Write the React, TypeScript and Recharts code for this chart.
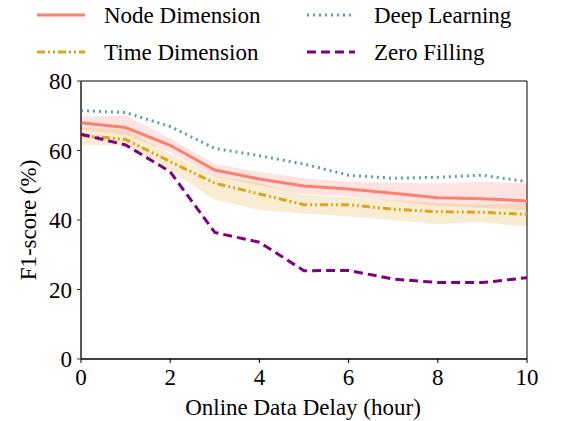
import { ComposedChart, Line, Area, XAxis, YAxis, ReferenceArea } from "recharts"

const delays = [0, 1, 2, 3, 4, 5, 6, 7, 8, 9, 10]
const nodeDim = [68.0, 66.6, 61.5, 54.4, 51.8, 49.8, 48.9, 47.7, 46.4, 46.1, 45.5]
const nodeLow = [66.0, 64.5, 59.5, 52.5, 50.0, 47.4, 46.8, 45.5, 44.0, 43.5, 42.9]
const nodeHigh = [69.7, 70.0, 63.5, 56.1, 53.8, 52.0, 51.0, 50.7, 50.5, 51.0, 50.5]
const timeDim = [64.3, 63.2, 56.8, 50.6, 47.5, 44.4, 44.4, 43.1, 42.4, 42.2, 41.6]
const timeLow = [61.6, 61.5, 54.4, 45.8, 42.9, 41.9, 41.0, 40.0, 38.8, 39.4, 38.1]
const timeHigh = [66.7, 65.9, 59.0, 52.7, 50.6, 47.2, 46.6, 45.6, 45.0, 44.3, 44.8]
const deepLearning = [71.5, 70.9, 66.9, 60.6, 58.5, 56.1, 52.9, 52.0, 52.3, 52.9, 51.0]
const zeroFilling = [64.7, 61.6, 53.9, 36.4, 33.6, 25.4, 25.5, 23.0, 22.0, 22.0, 23.4]
const xTicks = [0, 2, 4, 6, 8, 10]
const yTicks = [0, 20, 40, 60, 80]

const data = delays.map((d, i) => ({
  delay: d,
  node: nodeDim[i],
  nodeBand: [nodeLow[i], nodeHigh[i]],
  time: timeDim[i],
  timeBand: [timeLow[i], timeHigh[i]],
  deep: deepLearning[i],
  zero: zeroFilling[i],
}))

const font = "Liberation Serif, Times New Roman, serif"
const tick = { fill: "#000", fontSize: 23, fontFamily: font }

const legendItems = [
  { label: "Node Dimension", color: "#FA8072", dash: "", x: 37, y: 15 },
  { label: "Deep Learning", color: "#5F9EA0", dash: "2 4", x: 307, y: 15 },
  { label: "Time Dimension", color: "#DAA520", dash: "8 3 2 3 2 3", x: 37, y: 52 },
  { label: "Zero Filling", color: "#800080", dash: "9 5", x: 307, y: 52 },
]

export default function App() {
  return (
    <div style={{ position: "relative", width: 575, height: 421, fontFamily: font }}>
      <style>{"body{margin:0}"}</style>
      <ComposedChart width={575} height={421} data={data} margin={{ top: 81, right: 48, bottom: 0, left: 0 }}>
        <XAxis
          dataKey="delay"
          type="number"
          domain={[0, 10]}
          ticks={xTicks}
          tick={tick}
          tickSize={4}
          tickMargin={6}
          height={62}
          stroke="#000"
        />
        <YAxis
          type="number"
          domain={[0, 80]}
          ticks={yTicks}
          tick={tick}
          tickSize={4}
          tickMargin={5}
          width={81}
          stroke="#333"
        />
        <Area dataKey="nodeBand" stroke="none" fill="#FA8072" fillOpacity={0.22} isAnimationActive={false} />
        <Area dataKey="timeBand" stroke="none" fill="#DAA520" fillOpacity={0.2} isAnimationActive={false} />
        <Line dataKey="deep" stroke="#5F9EA0" strokeWidth={3} strokeDasharray="2 4" dot={false} isAnimationActive={false} />
        <Line dataKey="node" stroke="#FA8072" strokeWidth={3} dot={false} isAnimationActive={false} />
        <Line dataKey="time" stroke="#DAA520" strokeWidth={3} strokeDasharray="8 3 2 3 2 3" dot={false} isAnimationActive={false} />
        <Line dataKey="zero" stroke="#800080" strokeWidth={3} strokeDasharray="9 5" dot={false} isAnimationActive={false} />
        <ReferenceArea x1={0} x2={10} y1={0} y2={80} fill="none" stroke="#000" strokeWidth={1} />
      </ComposedChart>
      <svg width={575} height={421} style={{ position: "absolute", left: 0, top: 0, pointerEvents: "none" }}>
        {legendItems.map((it) => (
          <g key={it.label}>
            <line x1={it.x} x2={it.x + 48} y1={it.y} y2={it.y} stroke={it.color} strokeWidth={3} strokeDasharray={it.dash} />
            <text x={it.x + 67} y={it.y} dominantBaseline="central" fontSize={23} fontFamily={font} fill="#000">
              {it.label}
            </text>
          </g>
        ))}
        <text x={303} y={407} textAnchor="middle" dominantBaseline="central" fontSize={23} fontFamily={font} fill="#000">
          Online Data Delay (hour)
        </text>
        <text
          x={28}
          y={220}
          textAnchor="middle"
          dominantBaseline="central"
          fontSize={23}
          fontFamily={font}
          fill="#000"
          transform="rotate(-90 28 220)"
        >
          F1-score (%)
        </text>
      </svg>
    </div>
  )
}
